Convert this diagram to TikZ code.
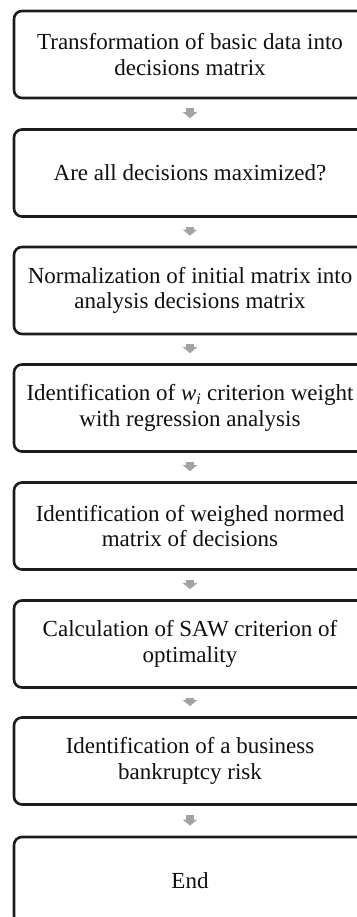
\documentclass[tikz,border=0pt]{standalone}
\usepackage{fontspec}
\setmainfont{Liberation Serif}
\usetikzlibrary{arrows.meta}
\definecolor{boxline}{HTML}{1C1C1C}
\definecolor{arrowgray}{HTML}{A3A3A3}
\definecolor{txt}{HTML}{101010}
\tikzset{
  stepbox/.style={draw=boxline, line width=2.6pt, fill=white, rounded corners=8pt,
    minimum width=352pt, minimum height=87pt, inner sep=0pt, align=center,
    text=txt, font=\fontsize{23}{25.5}\selectfont},
  flowarrow/.style={draw=arrowgray, line width=8pt,
    -{Triangle[width=14pt,length=6pt]}, shorten <=9pt, shorten >=10pt}
}
\begin{document}
\begin{tikzpicture}[x=1pt,y=-1pt]
\useasboundingbox (0,0) rectangle (356,917);
\node[stepbox] (b1) at (190,54.5) {Transformation of basic data into\\decisions matrix};
\node[stepbox] (b2) at (190,173) {Are all decisions maximized?};
\node[stepbox] (b3) at (190,290.5) {Normalization of initial matrix into\\analysis decisions matrix};
\node[stepbox] (b4) at (190,408) {Identification of {\itshape w}\textsubscript{\itshape i} criterion weight\\with regression analysis};
\node[stepbox] (b5) at (190,526) {Identification of weighed normed\\matrix of decisions};
\node[stepbox] (b6) at (190,644) {Calculation of SAW criterion of\\optimality};
\node[stepbox] (b7) at (190,761) {Identification of a business\\bankruptcy risk};
\node[stepbox] (b8) at (190,880.5) {End};
\foreach \a/\b in {b1/b2,b2/b3,b3/b4,b4/b5,b5/b6,b6/b7,b7/b8}
  \draw[flowarrow] (\a.south) -- (\b.north);
\end{tikzpicture}
\end{document}
